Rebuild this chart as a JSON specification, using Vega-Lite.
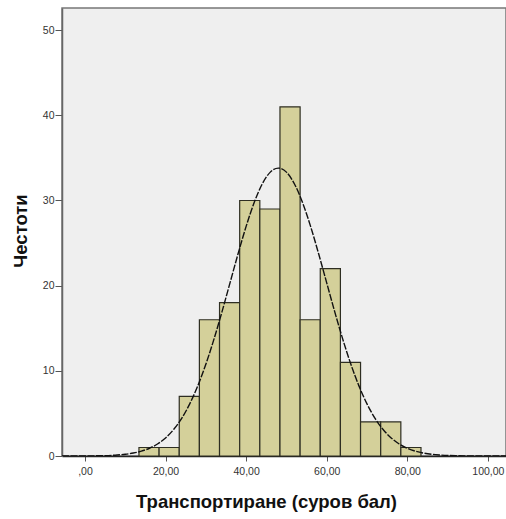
{
  "$schema": "https://vega.github.io/schema/vega-lite/v6.json",
  "width": 444,
  "height": 448,
  "autosize": {"type": "none"},
  "padding": {"left": 62, "top": 8, "right": 0, "bottom": 63},
  "background": "white",
  "config": {
    "view": {"fill": "#efefef", "stroke": "#777777", "strokeWidth": 1.5},
    "font": "Liberation Sans"
  },
  "datasets": {
    "bins": [
      {"start": 13.4, "end": 18.4, "count": 1},
      {"start": 18.4, "end": 23.4, "count": 1},
      {"start": 23.4, "end": 28.4, "count": 7},
      {"start": 28.4, "end": 33.4, "count": 16},
      {"start": 33.4, "end": 38.4, "count": 18},
      {"start": 38.4, "end": 43.4, "count": 30},
      {"start": 43.4, "end": 48.4, "count": 29},
      {"start": 48.4, "end": 53.4, "count": 41},
      {"start": 53.4, "end": 58.4, "count": 16},
      {"start": 58.4, "end": 63.4, "count": 22},
      {"start": 63.4, "end": 68.4, "count": 11},
      {"start": 68.4, "end": 73.4, "count": 4},
      {"start": 73.4, "end": 78.4, "count": 4},
      {"start": 78.4, "end": 83.4, "count": 1}
    ],
    "curve": [
      {"x": -5.7, "y": 0.001},
      {"x": 0, "y": 0.01},
      {"x": 4, "y": 0.036},
      {"x": 8, "y": 0.119},
      {"x": 10, "y": 0.206},
      {"x": 12, "y": 0.348},
      {"x": 14, "y": 0.571},
      {"x": 16, "y": 0.909},
      {"x": 18, "y": 1.408},
      {"x": 20, "y": 2.122},
      {"x": 22, "y": 3.106},
      {"x": 24, "y": 4.421},
      {"x": 26, "y": 6.118},
      {"x": 28, "y": 8.234},
      {"x": 30, "y": 10.77},
      {"x": 32, "y": 13.69},
      {"x": 34, "y": 16.92},
      {"x": 36, "y": 20.33},
      {"x": 38, "y": 23.74},
      {"x": 40, "y": 26.96},
      {"x": 42, "y": 29.76},
      {"x": 44, "y": 31.94},
      {"x": 46, "y": 33.33},
      {"x": 48, "y": 33.8},
      {"x": 50, "y": 33.33},
      {"x": 52, "y": 31.94},
      {"x": 54, "y": 29.76},
      {"x": 56, "y": 26.96},
      {"x": 58, "y": 23.74},
      {"x": 60, "y": 20.33},
      {"x": 62, "y": 16.92},
      {"x": 64, "y": 13.69},
      {"x": 66, "y": 10.77},
      {"x": 68, "y": 8.234},
      {"x": 70, "y": 6.118},
      {"x": 72, "y": 4.421},
      {"x": 74, "y": 3.106},
      {"x": 76, "y": 2.122},
      {"x": 78, "y": 1.408},
      {"x": 80, "y": 0.909},
      {"x": 82, "y": 0.571},
      {"x": 84, "y": 0.348},
      {"x": 86, "y": 0.206},
      {"x": 88, "y": 0.119},
      {"x": 92, "y": 0.036},
      {"x": 96, "y": 0.01},
      {"x": 100, "y": 0.002},
      {"x": 104.5, "y": 0.0005}
    ]
  },
  "layer": [
    {
      "data": {"name": "bins"},
      "mark": {"type": "rect", "fill": "#d4d09a", "stroke": "#2e2e22", "strokeWidth": 1.2},
      "encoding": {
        "x": {
          "field": "start", "type": "quantitative",
          "scale": {"domain": [-5.7, 104.5], "nice": false, "zero": false},
          "axis": {
            "values": [0, 20, 40, 60, 80, 100],
            "labelExpr": "datum.value == 0 ? ',00' : replace(format(datum.value, '.2f'), '.', ',')",
            "title": "Транспортиране (суров бал)",
            "titleFontSize": 18.5,
            "titleFontWeight": "bold",
            "titleColor": "#111111",
            "titleX": 204,
            "titleY": 51,
            "titleAlign": "center",
            "titleBaseline": "alphabetic",
            "titleFont": "Liberation Sans",
            "labelFontSize": 10.5,
            "labelColor": "#333333",
            "labelPadding": 5,
            "tickSize": 5,
            "tickColor": "#555555",
            "domainColor": "#222222",
            "domainWidth": 1.5,
            "grid": false
          }
        },
        "x2": {"field": "end"},
        "y": {
          "field": "count", "type": "quantitative",
          "scale": {"domain": [0, 52.6], "nice": false},
          "axis": {
            "values": [0, 10, 20, 30, 40, 50],
            "title": "Честоти",
            "titleFontSize": 18.5,
            "titleFontWeight": "bold",
            "titleColor": "#111111",
            "titleX": -36,
            "titleY": 222.5,
            "titleAlign": "center",
            "titleBaseline": "alphabetic",
            "titleFont": "Liberation Sans",
            "labelFontSize": 10.5,
            "labelColor": "#333333",
            "labelPadding": 1,
            "tickSize": 7,
            "tickColor": "#555555",
            "domainColor": "#666666",
            "domainWidth": 1.5,
            "grid": false
          }
        },
        "y2": {"datum": 0}
      }
    },
    {
      "data": {"name": "curve"},
      "mark": {"type": "line", "color": "#111111", "strokeWidth": 1.4, "strokeDash": [7, 1.5], "interpolate": "monotone", "clip": true},
      "encoding": {
        "x": {"field": "x", "type": "quantitative"},
        "y": {"field": "y", "type": "quantitative"}
      }
    }
  ]
}
